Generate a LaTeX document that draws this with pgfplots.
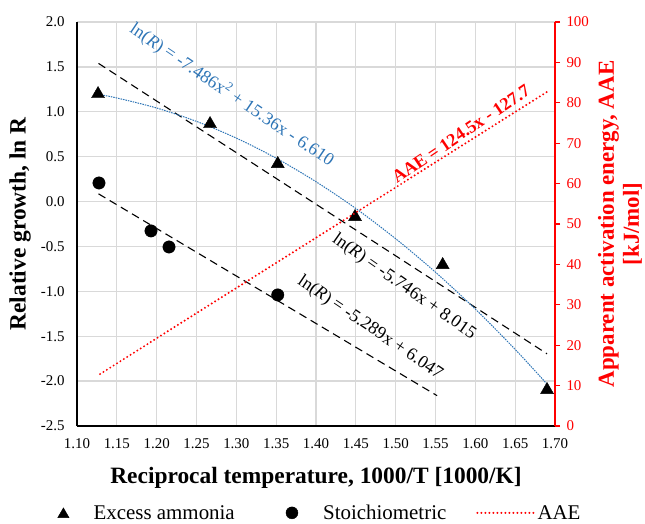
\documentclass[border=0pt]{standalone}
\usepackage{pgfplots}
\pgfplotsset{compat=1.18}
\usepackage{fontspec}
\setmainfont{Liberation Serif}
\definecolor{gridgray}{RGB}{217,217,217}
\definecolor{trendblue}{RGB}{46,117,182}
\begin{document}
\begin{tikzpicture}
\path[use as bounding box] (0,0) rectangle (645bp,524bp);
\begin{axis}[
 scale only axis, width=478bp, height=404bp, at={(77bp,98bp)}, anchor=south west,
 xmin=1.10, xmax=1.70, ymin=-2.5, ymax=2.0,
 xtick={1.10,1.15,1.20,1.25,1.30,1.35,1.40,1.45,1.50,1.55,1.60,1.65,1.70},
 ytick={-2.5,-2.0,-1.5,-1.0,-0.5,0,0.5,1.0,1.5,2.0},
 grid=major, major grid style={draw=gridgray, line width=1.3bp},
 axis x line*=bottom, axis y line*=left,
 axis line style={black, line width=1.8bp, -},
 major tick length=0pt, tick style={draw=none},
 /pgf/number format/assume math mode=true,
 xticklabel style={font=\fontsize{15}{17}\selectfont, yshift=-9bp},
 yticklabel style={font=\fontsize{15}{17}\selectfont, xshift=-9bp},
 x tick label style={/pgf/number format/.cd, fixed, fixed zerofill, precision=2},
 y tick label style={/pgf/number format/.cd, fixed, fixed zerofill, precision=1},
 xlabel={Reciprocal temperature, 1000/T [1000/K]},
 ylabel={Relative growth, ln R},
 label style={font=\bfseries\fontsize{23.5}{27}\selectfont},
 xlabel style={at={(axis description cs:0.5,-0.128)}, anchor=center},
 ylabel style={at={(axis description cs:-0.119,0.5)}, anchor=center},
 legend columns=3,
 legend style={at={(axis description cs:0.506,-0.215)}, anchor=center, draw=none, fill=none,
   font=\fontsize{21}{24}\selectfont, column sep=0pt,
   /tikz/every even column/.append style={column sep=28bp}},
]
\addplot[only marks, mark=triangle*, mark size=7.5bp, black,
  legend image code/.code={\path (-8bp,0bp) (28bp,0bp);
    \draw[black, fill=black, mark size=6.5bp] plot[only marks, mark=triangle*] coordinates {(0bp,-1.5bp)};}]
  coordinates {(1.1264,1.198) (1.267,0.864) (1.352,0.419) (1.449,-0.171) (1.559,-0.706) (1.690,-2.098)};
\addlegendentry{Excess ammonia}
\addplot[only marks, mark=*, mark size=6.2bp, black,
  legend image code/.code={\path (-27bp,0bp) (29bp,0bp);
    \draw[black, fill=black, mark size=6bp] plot[only marks, mark=*] coordinates {(0bp,0bp)};}]
  coordinates {(1.1276,0.207) (1.1929,-0.327) (1.2155,-0.506) (1.352,-1.040)};
\addlegendentry{Stoichiometric}
\addlegendimage{legend image code/.code={\draw[red, line width=2.2bp, dash pattern=on 0pt off 4bp, line cap=round] (0bp,0bp) -- (57bp,0bp);}}
\addlegendentry{AAE}
% trendlines
\addplot[forget plot, black, line width=1.1bp, dash pattern=on 8bp off 5bp] coordinates {(1.127,1.539) (1.690,-1.696)};
\addplot[forget plot, black, line width=1.1bp, dash pattern=on 8bp off 5bp] coordinates {(1.127,0.086) (1.552,-2.162)};
\addplot[forget plot, trendblue, line width=1bp, dash pattern=on 1.5bp off 1bp, smooth] coordinates {
 (1.127,1.193) (1.15,1.154) (1.20,1.042) (1.25,0.893) (1.30,0.707) (1.35,0.483) (1.40,0.221)
 (1.45,-0.077) (1.50,-0.414) (1.55,-0.787) (1.60,-1.198) (1.65,-1.647) (1.69,-2.033)};
\node[rotate=-34, text=trendblue, font=\fontsize{18}{20}\selectfont] at (axis cs:1.2946,1.187) {ln(\textit{R}) = -7.486x\textsuperscript{2} + 15.36x - 6.610};
\node[rotate=-35, font=\fontsize{18}{20}\selectfont] at (axis cs:1.5104,-0.951) {ln(\textit{R}) = -5.746x + 8.015};
\node[rotate=-34, font=\fontsize{18}{20}\selectfont] at (axis cs:1.4678,-1.408) {ln(\textit{R}) = -5.289x + 6.047};
\end{axis}
\begin{axis}[
 scale only axis, width=478bp, height=404bp, at={(77bp,98bp)}, anchor=south west,
 xmin=1.10, xmax=1.70, ymin=0, ymax=100,
 ytick={0,10,20,30,40,50,60,70,80,90,100},
 axis x line=none, axis y line*=right,
 y axis line style={red, line width=1.8bp, -},
 ytick style={red, line width=1.3bp},
 tick align=outside, major tick length=5bp,
 /pgf/number format/assume math mode=true,
 yticklabel style={text=red, font=\fontsize{15}{17}\selectfont, xshift=3bp},
 ylabel={Apparent activation energy, AAE\\{[kJ/mol]}},
 ylabel style={at={(axis description cs:1.136,0.5)}, anchor=center, align=center, text=red,
   font=\bfseries\fontsize{23}{25}\selectfont},
]
\addplot[red, line width=2.2bp, dash pattern=on 0pt off 4bp, line cap=round] coordinates {(1.129,12.86) (1.690,82.71)};
\node[rotate=34, text=red, font=\bfseries\fontsize{18}{20}\selectfont] at (axis cs:1.582,72.3) {AAE = 124.5x - 127.7};
\end{axis}
\end{tikzpicture}
\end{document}
